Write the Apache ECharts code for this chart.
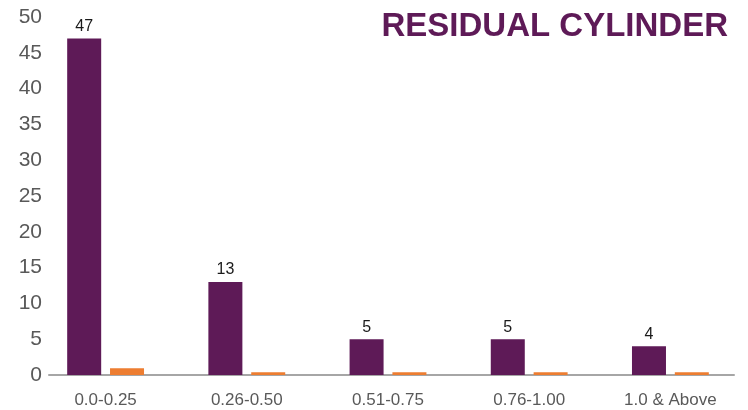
<!DOCTYPE html>
<html>
<head>
<meta charset="utf-8">
<script src="https://cdn.jsdelivr.net/npm/echarts@6/dist/echarts.min.js"></script>
<style>html,body{margin:0;padding:0;background:#fff}#c{width:748px;height:410px}</style>
</head>
<body>
<div id="c"></div>
<script>
var categories = ['0.0-0.25', '0.26-0.50', '0.51-0.75', '0.76-1.00', '1.0 & Above'];
var mainValues = [47, 13, 5, 5, 4];
var secondValues = [0.95, 0.4, 0.4, 0.4, 0.4];
var yTicks = [0, 5, 10, 15, 20, 25, 30, 35, 40, 45, 50];

var chart = echarts.init(document.getElementById('c'));
chart.setOption({
  animation: false,
  title: {
    text: 'RESIDUAL CYLINDER',
    right: 15,
    top: 5,
    textStyle: { color: '#5E1A57', fontSize: 33, fontWeight: 'bold', fontFamily: 'Liberation Sans, Arial' }
  },
  grid: [
    { left: 35, right: 7, top: 17, bottom: 35 },
    { left: 49, right: 14, top: 17, bottom: 35 }
  ],
  xAxis: [
    {
      type: 'category', gridIndex: 0, data: categories,
      axisLine: { show: false }, axisTick: { show: false },
      axisLabel: { color: '#595959', fontSize: 17, fontFamily: 'Liberation Sans, Arial', margin: 17 }
    },
    {
      type: 'category', gridIndex: 1, data: categories,
      axisLine: { show: true, lineStyle: { color: '#A6A6A6', width: 2 } },
      axisTick: { show: false }, axisLabel: { show: false }
    }
  ],
  yAxis: [
    {
      type: 'value', gridIndex: 0, min: yTicks[0], max: yTicks[yTicks.length - 1], interval: 5,
      axisLine: { show: false }, axisTick: { show: false }, splitLine: { show: false },
      axisLabel: { color: '#595959', fontSize: 21, fontFamily: 'Liberation Sans, Arial', margin: -7 }
    },
    {
      type: 'value', gridIndex: 1, min: 0, max: 50, show: false
    }
  ],
  series: [
    {
      type: 'bar', data: mainValues, barWidth: 34, barGap: '26%',
      itemStyle: { color: '#5E1A57' },
      label: { show: true, position: 'top', color: '#1a1a1a', fontSize: 16, fontFamily: 'Liberation Sans, Arial', distance: 4 }
    },
    {
      type: 'bar', data: secondValues, barWidth: 34, barGap: '26%',
      itemStyle: { color: '#ED7D31' }
    }
  ]
});
</script>
</body>
</html>
